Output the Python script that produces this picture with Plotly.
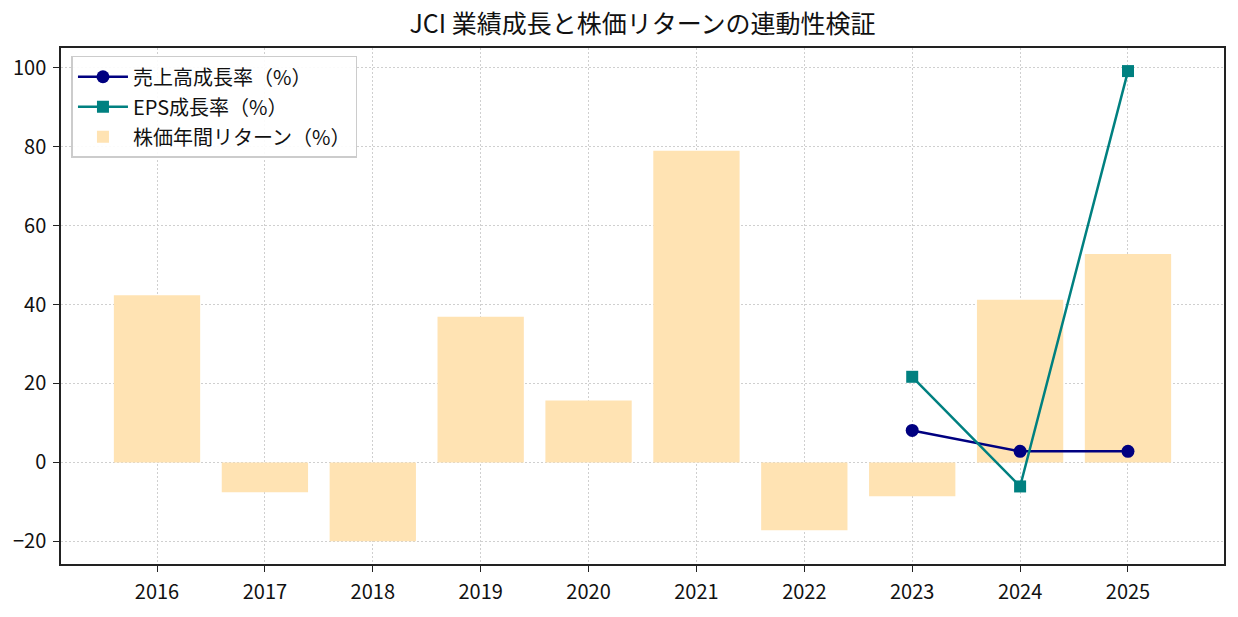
import plotly.graph_objects as go

years = ["2016", "2017", "2018", "2019", "2020", "2021", "2022", "2023", "2024", "2025"]
stock_return = [42.4, -7.6, -20.0, 36.9, 15.7, 79.0, -17.2, -8.6, 41.2, 52.8]
rev_years = ["2023", "2024", "2025"]
revenue_growth = [8.1, 2.8, 2.8]
eps_growth = [21.7, -6.1, 99.2]

FONT = "Noto Sans CJK JP"

fig = go.Figure()
fig.add_trace(go.Bar(
    x=years, y=stock_return, name="株価年間リターン（%）",
    marker=dict(color="#FFE3B3", line=dict(width=0)), width=0.8,
    legendrank=3, legendgroup="c",
))
fig.add_trace(go.Scatter(
    x=rev_years, y=revenue_growth, name="売上高成長率（%）",
    mode="lines+markers", line=dict(color="#000080", width=2.5),
    marker=dict(symbol="circle", size=13, color="#000080"),
    legendrank=1, legendgroup="a",
))
fig.add_trace(go.Scatter(
    x=rev_years, y=eps_growth, name="EPS成長率（%）",
    mode="lines+markers", line=dict(color="#008080", width=2.5),
    marker=dict(symbol="square", size=12, color="#008080"),
    legendrank=2, legendgroup="b",
))

axis_common = dict(
    showline=True, linecolor="#222", linewidth=1.5, mirror=True,
    ticks="outside", ticklen=6, tickwidth=1.3, tickcolor="#222",
    showgrid=True, gridcolor="#cfcfcf", griddash="1.5px,2.5px", gridwidth=1.2,
    zeroline=False, tickfont=dict(family=FONT, size=20, color="#111"),
)

fig.update_layout(
    width=1238, height=617,
    margin=dict(l=61, r=14, t=48, b=49),
    paper_bgcolor="white", plot_bgcolor="white",
    title=dict(text="JCI 業績成長と株価リターンの連動性検証", x=0.5, xanchor="center",
               xref="paper", y=0.96, yanchor="middle",
               font=dict(family=FONT, size=25, color="#111")),
    font=dict(family=FONT),
    xaxis=dict(type="category", range=[-0.89, 9.89], ticklabelstandoff=3, **axis_common),
    yaxis=dict(range=[-25.76, 105.05], tickvals=[-20, 0, 20, 40, 60, 80, 100],
               ticktext=["−20", "0", "20", "40", "60", "80", "100"], ticklabelstandoff=3,
               **axis_common),
    legend=dict(x=0.009, y=0.985, xanchor="left", yanchor="top",
                bgcolor="rgba(255,255,255,0.9)", bordercolor="#cccccc", borderwidth=1.5,
                font=dict(family=FONT, size=20, color="#111"), tracegroupgap=1,
                traceorder="grouped", itemwidth=50),
    showlegend=True,
)

fig.write_html("out.html")
